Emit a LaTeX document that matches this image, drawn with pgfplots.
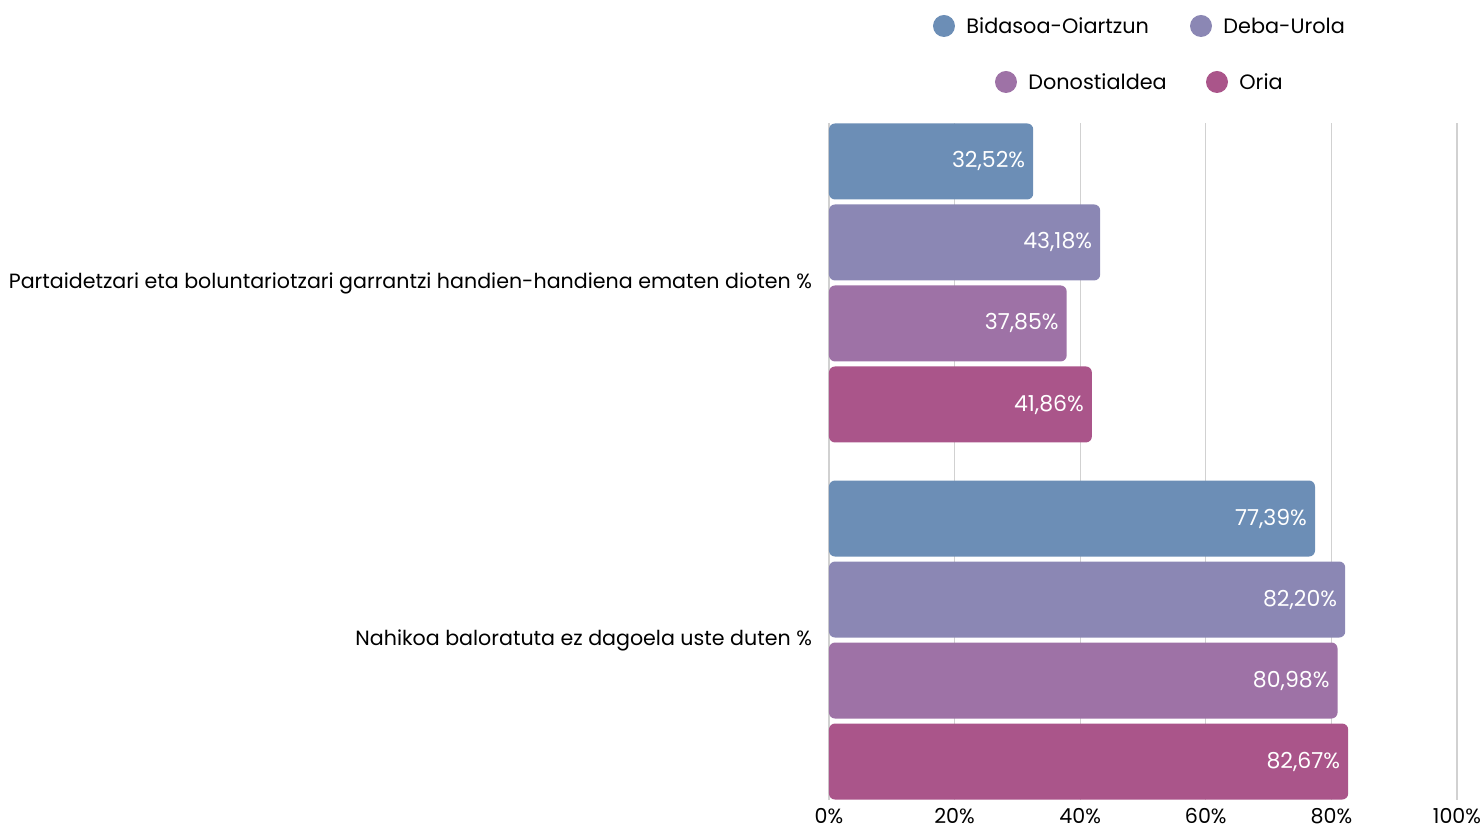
\documentclass[border=0pt]{standalone}
\usepackage{fontspec}
\setmainfont{Poppins}
\usepackage{pgfplots}
\pgfplotsset{compat=1.18}
\definecolor{cBid}{RGB}{108,142,182}
\definecolor{cDeb}{RGB}{139,135,180}
\definecolor{cDon}{RGB}{158,114,166}
\definecolor{cOri}{RGB}{170,85,138}

\begin{document}
\begin{tikzpicture}[x=1pt,y=1pt]
\begin{axis}[
    at={(0,0)}, anchor=south west,
    width=314pt, height=338.5pt, scale only axis,
    xbar,
    xmin=0, xmax=100,
    ymin=-0.448, ymax=1.448,
    bar width=38pt,
    axis line style={draw=none},
    major tick length=0pt,
    xtick={0,20,...,100},
    xticklabel={\pgfmathprintnumber{\tick}\%},
    /pgf/number format/assume math mode=true,
    xmajorgrids,
    grid style={draw=black!18, line width=0.6pt},
    ytick={0,1},
    yticklabels={Nahikoa baloratuta ez dagoela uste duten \%,
                 Partaidetzari eta boluntariotzari garrantzi handien-handiena ematen dioten \%},
    tick label style={font=\fontsize{10.3}{12}\selectfont},
    yticklabel style={xshift=-5pt},
    xticklabel style={yshift=-0.5pt},
    clip=false,
    nodes near coords={\pgfmathprintnumber[fixed, fixed zerofill, precision=2, use comma]{\pgfplotspointmeta}\%},
    every node near coord/.append style={anchor=east, color=white, xshift=-0.5pt,
        font=\fontsize{11}{13}\selectfont},
    every axis plot/.append style={draw=none, rounded corners=3pt},
]
\addplot[fill=cBid, bar shift=60.75pt] coordinates {(32.52,1) (77.39,0)};
\addplot[fill=cDeb, bar shift=20.25pt] coordinates {(43.18,1) (82.20,0)};
\addplot[fill=cDon, bar shift=-20.25pt] coordinates {(37.85,1) (80.98,0)};
\addplot[fill=cOri, bar shift=-60.75pt] coordinates {(41.86,1) (82.67,0)};
\end{axis}
% legend
\begin{scope}[every node/.style={font=\fontsize{10.4}{12}\selectfont, inner sep=0pt, anchor=west}]
\fill[cBid] (57.5,387) circle (5.5pt);
\node at (68.5,387) {Bidasoa-Oiartzun};
\fill[cDeb] (186,387) circle (5.5pt);
\node at (197,387) {Deba-Urola};
\fill[cDon] (88.5,359) circle (5.5pt);
\node at (99.5,359) {Donostialdea};
\fill[cOri] (194,359) circle (5.5pt);
\node at (205,359) {Oria};
\end{scope}
\pgfresetboundingbox
\path[use as bounding box] (-414.5,-14.5) rectangle (327.5,400);
\end{tikzpicture}
\end{document}
